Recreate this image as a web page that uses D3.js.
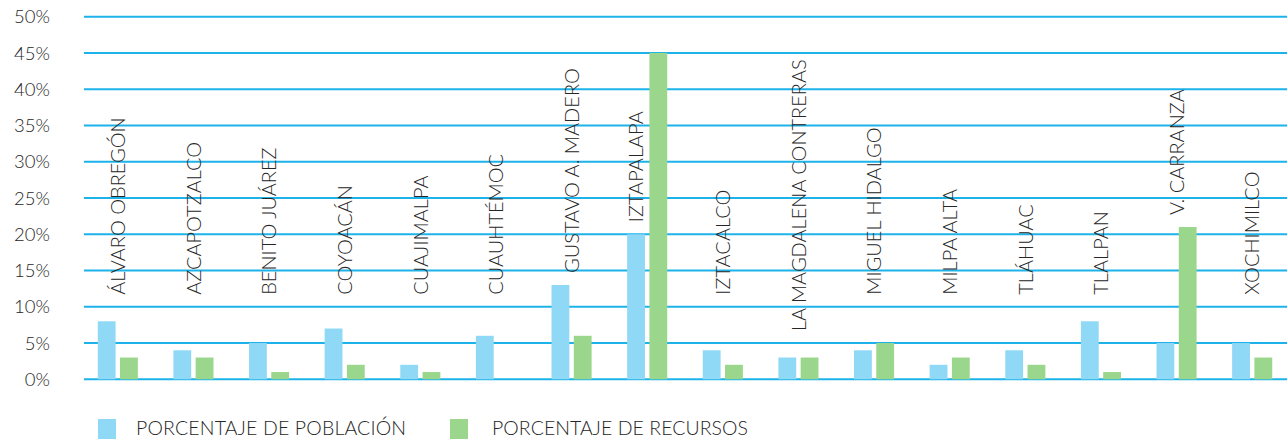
<!DOCTYPE html>
<html>
<head>
<meta charset="utf-8">
<script src="https://cdn.jsdelivr.net/npm/d3@7"></script>
<style>
  html, body { margin: 0; padding: 0; background: #fff; }
  svg { display: block; }
  text { font-family: "Lato", "Open Sans", sans-serif; font-weight: 300; fill: #262626; }
</style>
</head>
<body>
<div id="chart"></div>
<script>
// alcaldías
const categories = [
  "ÁLVARO OBREGÓN", "AZCAPOTZALCO", "BENITO JUÁREZ", "COYOACÁN", "CUAJIMALPA",
  "CUAUHTÉMOC", "GUSTAVO A. MADERO", "IZTAPALAPA", "IZTACALCO", "LA MAGDALENA CONTRERAS",
  "MIGUEL HIDALGO", "MILPA ALTA", "TLÁHUAC", "TLALPAN", "V. CARRANZA", "XOCHIMILCO"
];

// series (%)
const poblacion = [8, 4, 5, 7, 2, 6, 13, 20, 4, 3, 4, 2, 4, 8, 5, 5];
const recursos  = [3, 3, 1, 2, 1, 0, 6, 45, 2, 3, 5, 3, 2, 1, 21, 3];

const seriesNames = ["PORCENTAJE DE POBLACIÓN", "PORCENTAJE DE RECURSOS"];
const seriesColors = ["#8fd8f6", "#9ad68b"];

// valor (%) sobre el que arranca cada etiqueta, y barra a la que se alinea
const labelBase = [10, 10, 10, 10, 10, 10, 13, 20, 10, 5, 10, 10, 10, 10, 21, 10];
const labelOver = [null, null, null, null, null, null, null, 0, null, null, null, null, null, null, null, null];

const yTicks = [0, 5, 10, 15, 20, 25, 30, 35, 40, 45, 50];

const width = 1287, height = 439;

const svg = d3.select("#chart").append("svg")
  .attr("width", width)
  .attr("height", height);

const x0 = d3.scaleBand()
  .domain(categories)
  .range([80, 1290])
  .paddingInner(0.47)
  .paddingOuter(0.235);

const x1 = d3.scaleBand()
  .domain([0, 1])
  .range([0, x0.bandwidth()])
  .paddingInner(0.2);

const y = d3.scaleLinear()
  .domain([0, 50])
  .range([379.3, 16.7]);

// líneas de la cuadrícula
svg.append("g")
  .selectAll("line")
  .data(yTicks)
  .join("line")
    .attr("x1", 84)
    .attr("x2", width)
    .attr("y1", d => y(d))
    .attr("y2", d => y(d))
    .attr("stroke", "#1db3ea")
    .attr("stroke-width", 2);

// etiquetas del eje y
svg.append("g")
  .selectAll("text")
  .data(yTicks)
  .join("text")
    .attr("x", 50)
    .attr("y", d => y(d))
    .attr("dy", "0.36em")
    .attr("text-anchor", "end")
    .attr("font-size", 18.5)
    .text(d => d + "%");

// barras
const rows = categories.map((c, i) => ({ cat: c, vals: [poblacion[i], recursos[i]] }));

const groups = svg.append("g")
  .selectAll("g")
  .data(rows)
  .join("g")
    .attr("transform", d => `translate(${x0(d.cat)},0)`);

groups.selectAll("rect")
  .data(d => d.vals.map((v, k) => ({ k, v })))
  .join("rect")
    .attr("x", d => x1(d.k))
    .attr("width", x1.bandwidth())
    .attr("y", d => y(d.v))
    .attr("height", d => y(0) - y(d.v))
    .attr("fill", d => seriesColors[d.k]);

// nombres verticales
svg.append("g")
  .selectAll("text")
  .data(categories)
  .join("text")
    .attr("transform", (d, i) => {
      const cx = labelOver[i] === null
        ? x0(d) + x0.bandwidth() / 2
        : x0(d) + x1(labelOver[i]) + x1.bandwidth() / 2;
      return `translate(${cx},${y(labelBase[i]) - 12}) rotate(-90)`;
    })
    .attr("dy", "0.36em")
    .attr("font-size", 20)
    .text(d => d);

// leyenda
const legend = svg.append("g")
  .selectAll("g")
  .data(seriesNames)
  .join("g")
    .attr("transform", (d, i) => `translate(${[98, 450][i]},419)`);

legend.append("rect")
  .attr("width", 18)
  .attr("height", 20)
  .attr("fill", (d, i) => seriesColors[i]);

legend.append("text")
  .attr("x", (d, i) => [38, 42][i])
  .attr("y", 16)
  .attr("font-size", 19.5)
  .attr("textLength", (d, i) => [270, 256][i])
  .text(d => d);
</script>
</body>
</html>
